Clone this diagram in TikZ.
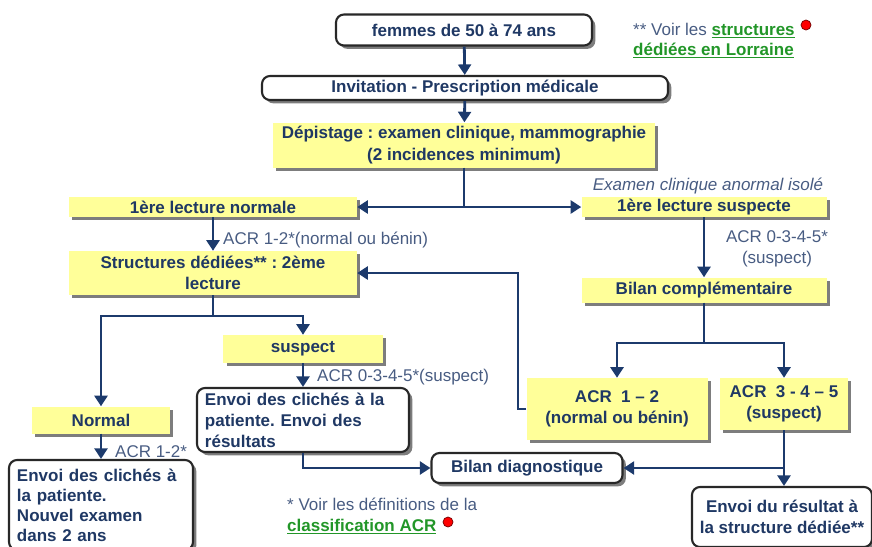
\documentclass[tikz,border=0pt]{standalone}
\usepackage{fontspec}
\setmainfont{Liberation Sans}
\usepackage{xcolor}
\usepackage{tikz}
\usetikzlibrary{arrows.meta,shadows}

\definecolor{boxyellow}{RGB}{255,255,153}
\definecolor{navy}{RGB}{28,58,108}
\definecolor{txtnavy}{RGB}{31,56,100}
\definecolor{notegray}{RGB}{72,92,130}
\definecolor{linkgreen}{RGB}{34,150,40}
\definecolor{shadowgray}{RGB}{125,125,125}
\definecolor{framegray}{RGB}{40,40,40}

\frenchspacing
\newcommand{\diagfont}{\fontsize{14.5}{18}\selectfont}
\newcommand{\greenlink}[1]{\textcolor{linkgreen}{\bfseries\setbox0\hbox{#1}\rlap{\vrule width\wd0 height -1.6pt depth 2.8pt}\box0}}

\begin{document}
\begin{tikzpicture}[x=0.03cm,y=-0.03cm,
  yellowbox/.style={fill=boxyellow,text=txtnavy,font=\diagfont\bfseries,inner sep=0pt,align=center,
    drop shadow={shadow xshift=0.1cm,shadow yshift=-0.1cm,fill=shadowgray,opacity=1}},
  whitebox/.style={draw=framegray,line width=1.8pt,rounded corners=0.24cm,fill=white,text=txtnavy,
    font=\diagfont\bfseries,inner sep=0pt,align=center,
    drop shadow={shadow xshift=0.1cm,shadow yshift=-0.1cm,fill=shadowgray,opacity=1}},
  arr/.style={draw=navy,line width=2.4pt,-{Triangle[length=9pt,width=11pt]}},
  link/.style={draw=navy,line width=2.4pt},
  note/.style={text=notegray,font=\diagfont,inner sep=0pt},
  reddot/.style={circle,fill=red,draw=red!45!black,line width=0.6pt,inner sep=0pt,minimum size=0.3cm}]
  \useasboundingbox (0,0) rectangle (872,546);
  % --- Invitation et dépistage ---
  \node[whitebox,minimum width=7.68cm,minimum height=0.93cm] (women) at (464,30) {femmes de 50 à 74 ans};
  \node[whitebox,minimum width=12.18cm,minimum height=0.72cm] (invit) at (465,88) {Invitation - Prescription médicale};
  \node[yellowbox,minimum width=11.46cm,minimum height=1.35cm] (depist) at (464,145) {Dépistage : examen clinique, mammographie\\(2 incidences minimum)};
  \draw[arr] (women) -- (invit);
  \draw[arr] (invit) -- (depist);
  % --- Première lecture ---
  \node[yellowbox,minimum width=8.64cm,minimum height=0.6cm] (lectnorm) at (213,207) {1ère lecture normale};
  \node[yellowbox,minimum width=7.35cm,minimum height=0.6cm] (lectsusp) at (704,207) {1ère lecture suspecte};
  \node[note,font=\diagfont\itshape,anchor=base] (lblexam) at (708,190) {Examen clinique anormal isolé};
  \coordinate (split1) at (464,207);
  \draw[link] (depist) -- (split1);
  \draw[arr] (split1) -- (lectnorm);
  \draw[arr] (split1) -- (lectsusp);
  % --- Deuxième lecture ---
  \node[yellowbox,minimum width=8.64cm,minimum height=1.32cm] (struct) at (213,273) {Structures dédiées** : 2ème\\lecture};
  \draw[arr] (lectnorm) -- (struct);
  \node[note,anchor=base west] (lblnorm) at (223,244) {ACR 1-2*(normal ou bénin)};
  % --- Bilan complémentaire ---
  \node[yellowbox,minimum width=7.35cm,minimum height=0.75cm] (bilcomp) at (704,290) {Bilan complémentaire};
  \draw[arr] (lectsusp) -- (bilcomp);
  \node[note,align=center] (lblsusp) at (777,249) {ACR 0-3-4-5*\\(suspect)};
  \node[yellowbox,minimum width=5.43cm,minimum height=1.86cm] (acrnorm) at (617,409) {ACR\ \ 1 – 2\\(normal ou bénin)};
  \node[yellowbox,minimum width=3.84cm,minimum height=1.56cm] (acrsusp) at (784,404) {ACR\ \ 3 - 4 – 5\\(suspect)};
  \coordinate (split2) at (704,343);
  \draw[link] (bilcomp) -- (split2);
  \draw[arr] (split2) -| (acrnorm);
  \draw[arr] (split2) -| (acrsusp);
  \coordinate (back) at (518,409);
  \draw[arr] (acrnorm.west) -- (back) |- (struct.east);
  % --- Résultats de la deuxième lecture ---
  \node[yellowbox,minimum width=4.77cm,minimum height=0.84cm] (susp) at (303,349) {suspect};
  \node[yellowbox,minimum width=4.14cm,minimum height=0.81cm] (normal) at (101,420) {Normal};
  \coordinate (split3) at (213,316);
  \draw[link] (struct) -- (split3);
  \draw[arr] (split3) -| (normal);
  \draw[arr] (split3) -| (susp);
  \node[whitebox,align=left,text width=5.88cm,inner xsep=0.24cm,minimum height=1.92cm] (envres) at (303,420) {Envoi des clichés à la\\patiente. Envoi des\\résultats};
  \draw[arr] (susp) -- (envres);
  \node[note,anchor=base west] (lblsusp2) at (317,381) {ACR 0-3-4-5*(suspect)};
  \node[whitebox,align=left,text width=5.04cm,inner xsep=0.24cm,minimum height=2.7cm,
    font=\fontsize{14.5}{17}\selectfont\bfseries] (envnew) at (101,505) {Envoi des clichés à\\la patiente.\\Nouvel examen\\dans 2 ans};
  \draw[arr] (normal) -- (envnew);
  \node[note,anchor=base west] (lblnorm2) at (115,457) {ACR 1-2*};
  % --- Bilan diagnostique ---
  \node[whitebox,minimum width=5.73cm,minimum height=0.9cm] (bildiag) at (527,468) {Bilan diagnostique};
  \node[whitebox,minimum width=5.4cm,minimum height=1.8cm] (envstruct) at (782,517) {Envoi du résultat à\\la structure dédiée**};
  \draw[arr] (envres) |- (bildiag);
  \coordinate (split4) at (784,468);
  \draw[link] (acrsusp) -- (split4);
  \draw[arr] (split4) -- (bildiag);
  \draw[arr] (split4) -- (split4 |- envstruct.north);
  % --- Renvois ---
  \node[note,anchor=base west] (refstructa) at (633,35) {** Voir les \greenlink{structures}};
  \node[note,anchor=base west] (refstructb) at (633,55) {\greenlink{dédiées en Lorraine}};
  \node[reddot] (dotstruct) at (806,25) {};
  \node[note,anchor=base west] (refacra) at (287,510) {* Voir les définitions de la};
  \node[note,anchor=base west] (refacrb) at (287,531) {\greenlink{classification ACR}};
  \node[reddot] (dotacr) at (448,522) {};
\end{tikzpicture}
\end{document}
